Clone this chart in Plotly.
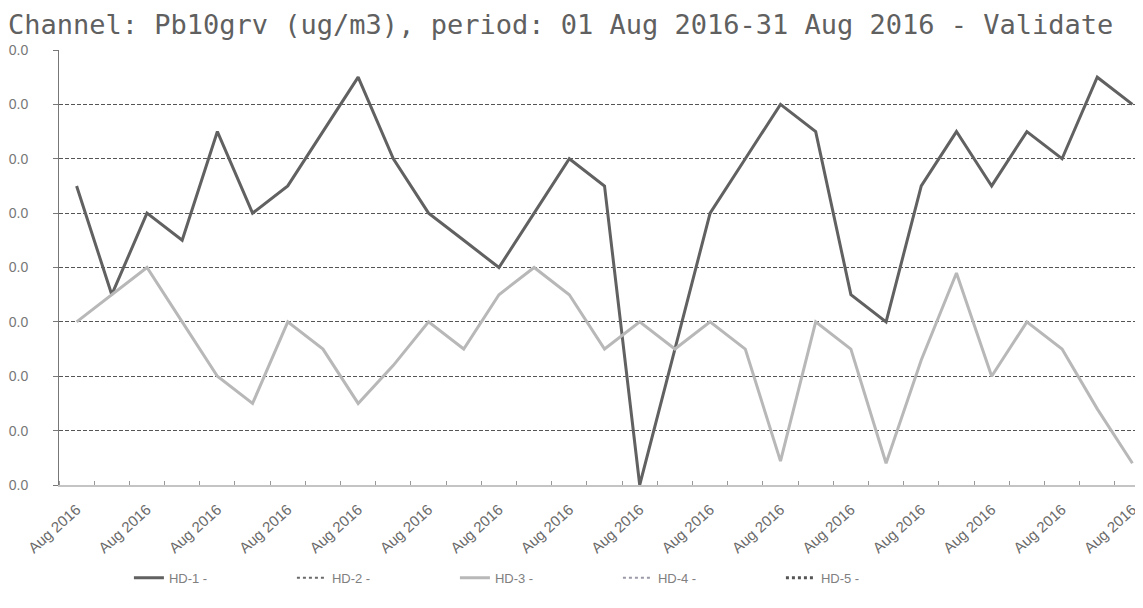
import plotly.graph_objects as go

days = list(range(1, 32))
hd1 = [0.0275, 0.0175, 0.025, 0.0225, 0.0325, 0.025, 0.0275, 0.0325, 0.0375, 0.030,
       0.025, 0.0225, 0.020, 0.025, 0.030, 0.0275, 0.000, 0.0125, 0.025, 0.030,
       0.035, 0.0325, 0.0175, 0.015, 0.0275, 0.0325, 0.0275, 0.0325, 0.030, 0.0375, 0.035]
hd3 = [0.015, 0.0175, 0.020, 0.015, 0.010, 0.0075, 0.015, 0.0125, 0.0075, 0.011,
       0.015, 0.0125, 0.0175, 0.020, 0.0175, 0.0125, 0.015, 0.0125, 0.015, 0.0125,
       0.0022, 0.015, 0.0125, 0.002, 0.0115, 0.0195, 0.010, 0.015, 0.0125, 0.007, 0.002]
empty = [None] * 31
tick_days = list(range(1, 32, 2))
tick_text = ["Aug 2016"] * len(tick_days)
y_ticks = [0.0, 0.005, 0.01, 0.015, 0.02, 0.025, 0.03, 0.035, 0.04]

fig = go.Figure()
fig.add_trace(go.Scatter(x=days, y=hd1, name="HD-1 -", mode="lines",
                         line=dict(color="#616161", width=3)))
fig.add_trace(go.Scatter(x=days, y=empty, name="HD-2 -", mode="lines",
                         line=dict(color="#6a6a6a", width=2, dash="dot")))
fig.add_trace(go.Scatter(x=days, y=hd3, name="HD-3 -", mode="lines",
                         line=dict(color="#b8b8b8", width=3)))
fig.add_trace(go.Scatter(x=days, y=empty, name="HD-4 -", mode="lines",
                         line=dict(color="#9a9aa8", width=2, dash="dot")))
fig.add_trace(go.Scatter(x=days, y=empty, name="HD-5 -", mode="lines",
                         line=dict(color="#555555", width=3, dash="dot")))

fig.update_layout(
    width=1135, height=600,
    margin=dict(l=51, r=0, t=42, b=123),
    paper_bgcolor="white", plot_bgcolor="white",
    title=dict(text="Channel: Pb10grv (ug/m3), period: 01 Aug 2016-31 Aug 2016 - Validate",
               x=0, xanchor="left", xref="container",
               y=1 - 17/600, yanchor="middle",
               font=dict(family="DejaVu Sans Mono", size=27, color="#606060")),
    legend=dict(orientation="h", x=0.0645, xanchor="left", y=-0.179, yanchor="top",
                font=dict(family="Liberation Sans", size=13, color="#808080"),
                entrywidth=118, entrywidthmode="pixels", bgcolor="rgba(0,0,0,0)"),
    showlegend=True,
)
fig.update_xaxes(range=[0.5, 31.3], tickvals=tick_days, ticktext=tick_text,
                 tickangle=-42, showgrid=False, zeroline=False,
                 showline=True, linecolor="#c4c4c4", linewidth=2,
                 ticks="", ticklabelstandoff=8,
                 tickfont=dict(family="Liberation Sans", size=15, color="#6a6a6a"),
                 minor=dict(tickvals=[d + 0.5 for d in range(0, 31)], ticks="inside",
                            ticklen=4, tickcolor="#999999", showgrid=False))
fig.update_yaxes(range=[0, 0.04], tickvals=y_ticks, tickformat=".1f",
                 showgrid=True, gridcolor="#555555", gridwidth=1, griddash="4px,2px",
                 zeroline=False, showline=True, linecolor="#777777", linewidth=1,
                 ticks="outside", ticklen=5, tickcolor="#777777",
                 ticklabelstandoff=22,
                 tickfont=dict(family="Liberation Sans", size=14, color="#777777"))

fig.write_html("out.html")
